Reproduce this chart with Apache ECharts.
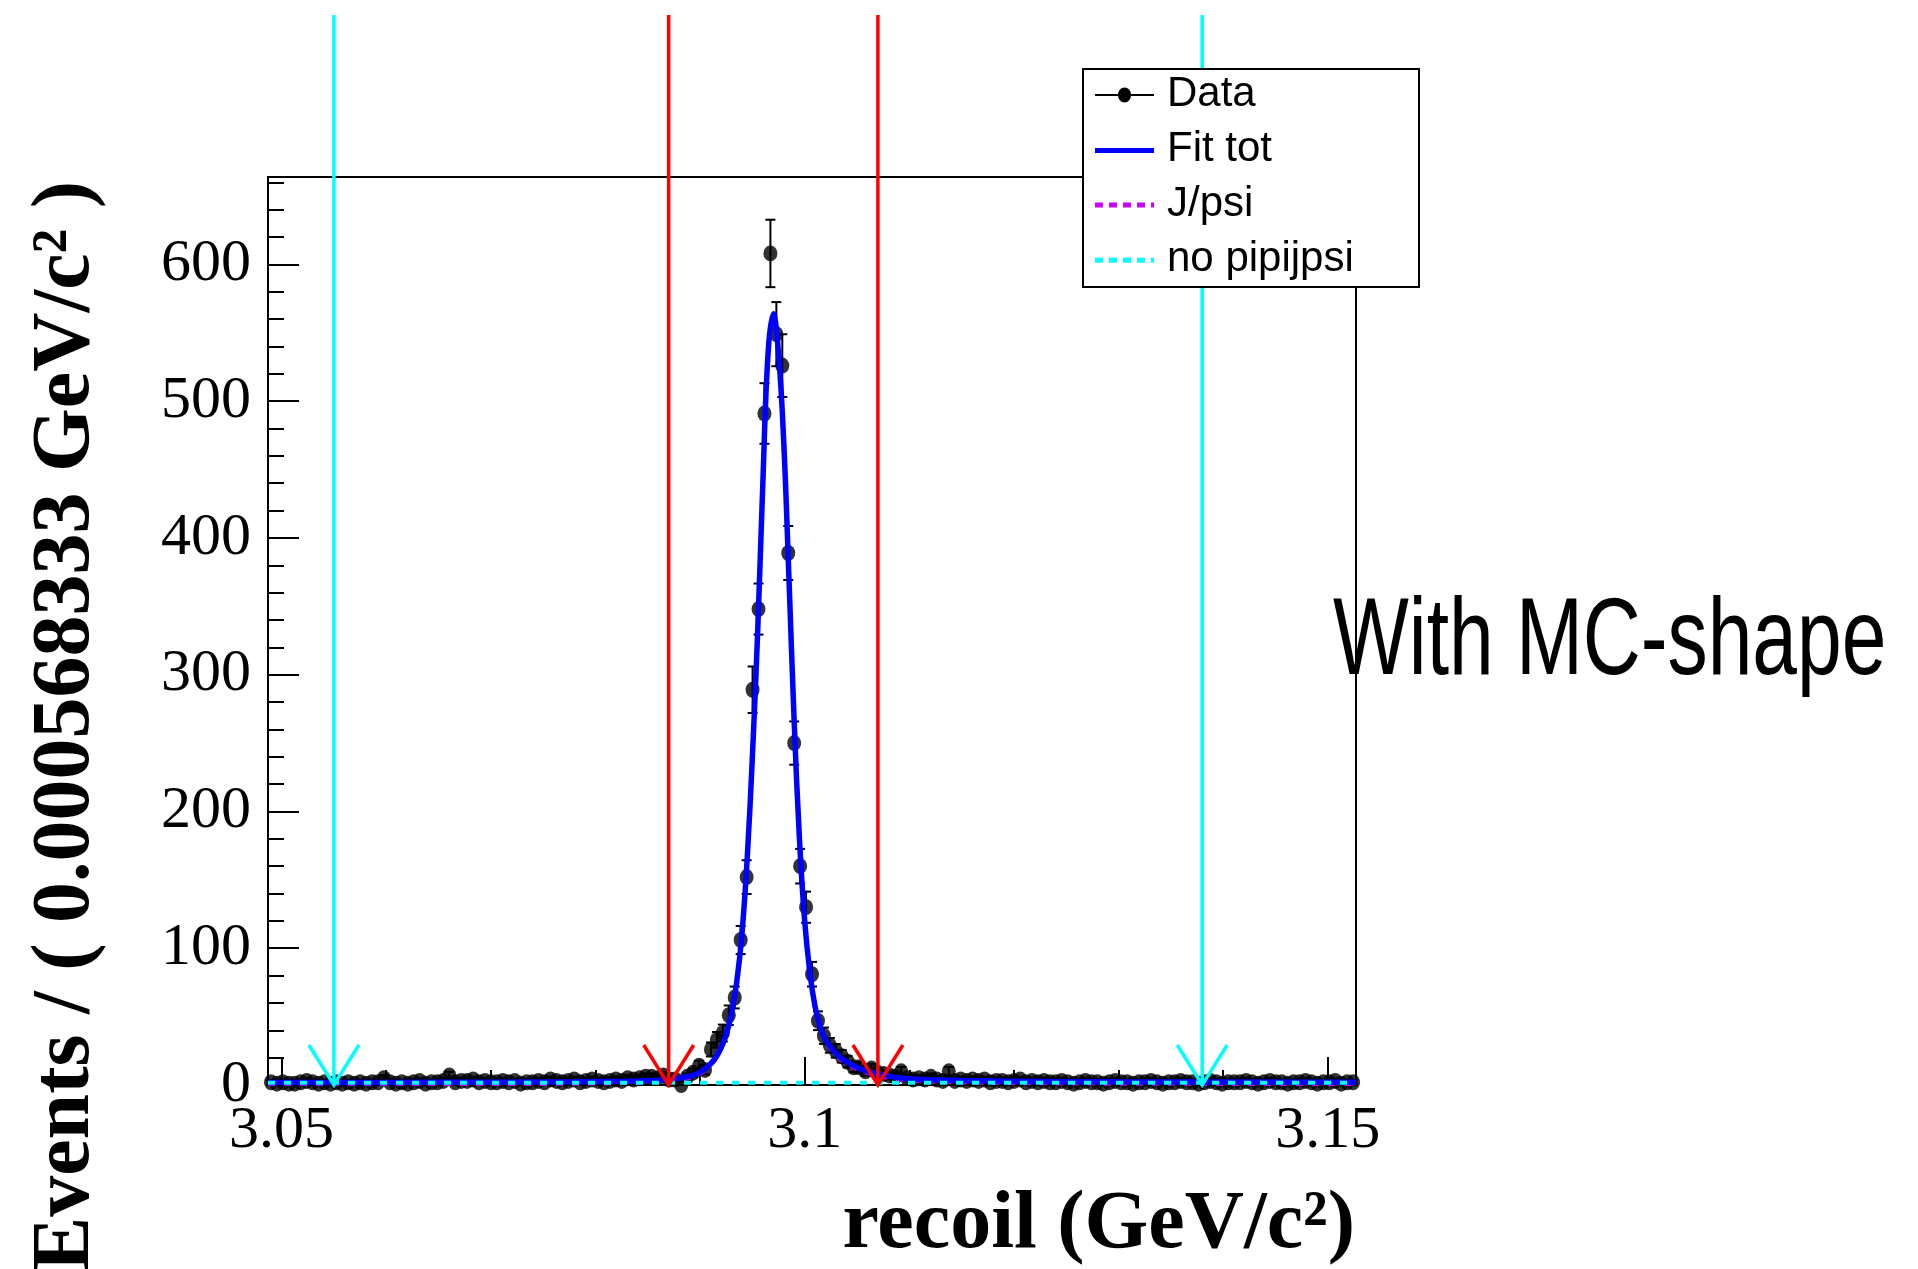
<!DOCTYPE html>
<html><head><meta charset="utf-8">
<script src="https://cdn.jsdelivr.net/npm/echarts@6/dist/echarts.min.js"></script>
<style>html,body{margin:0;padding:0;background:#fff}#c{width:1918px;height:1269px}</style>
</head><body><div id="c"></div>
<script>
// ---- data ----
const binLo = 3.0487;
const binW = 0.000568333;
const counts = [
  2,1,2,1,1,2,3,2,1,2, 1,2,1,2,1,2,1,2,2,5, 2,1,2,1,2,3,1,2,2,3, 7,2,3,3,4,2,3,2,2,3, 2,3,1,2,2,
  3,2,4,3,2,3,4,2,3,4, 3,2,3,4,3,5,4,5,6,6, 5,7,4,4,
  0,6,9,14,11,26,33,38,51,64, 106,152,289,348,491,608,549,526,389,250, 160,130,81,47,36,29,25,21,17,13,
  13,10,12,9,8,7,6,10,5,4, 5,4,6,4,3,10,3,4,3,4, 3,4,2,3,
  3,2,3,4,2,3,2,3,2,2, 3,2,1,2,3,2,2,1,2,3, 2,2,1,2,2,3,2,1,2,2, 3,2,2,1,2,3,2,1,2,2,
  2,3,2,1,2,3,2,2,1,2, 2,3,2,1,2,2,3,1,2,2
];
const fitX = [3.0487,3.060,3.070,3.078,3.083,3.086,3.088,3.089,3.0895,3.090,3.0905,3.091,3.0915,3.092,3.0925,3.093,3.0935,3.094,3.0945,3.095,3.0955,3.096,3.0965,3.097,3.0975,3.098,3.0985,3.099,3.0995,3.100,3.1005,3.101,3.1015,3.102,3.103,3.104,3.105,3.106,3.108,3.110,3.115,3.120,3.130,3.1527];
const fitTot = [1.8,1.9,2.0,2.3,2.8,3.5,5.0,6.5,7.5,9.5,12,15.5,20,27,37,52,75,110,165,240,330,440,535,564,535,470,370,265,180,120,82,57,42,33,23,17,13,10,6.5,4.5,3.2,2.7,2.3,2.0];
const fitJpsi = [0.1,0.2,0.3,0.6,1.1,1.8,3.3,4.8,5.8,7.8,10.3,13.8,18.3,25.3,35.3,50.3,73.3,108,163,238,328,438,533,562,533,468,368,263,178,118,80,55,40,31,21,15,11,8.3,4.8,2.8,1.5,1.0,0.6,0.2];
const bkgX = [3.0487, 3.1527];
const bkgY = [1.7, 1.7];
const xMajor = [3.05, 3.1, 3.15];
const xMinor = [3.06, 3.07, 3.08, 3.09, 3.11, 3.12, 3.13, 3.14];
const yMajor = [0, 100, 200, 300, 400, 500, 600];
const yMinor = [20,40,60,80,120,140,160,180,220,240,260,280,320,340,360,380,420,440,460,480,520,540,560,580,620,640,660];
const cutValues = [3.055, 3.087, 3.107, 3.138];
const cutColors = ['#00ffff', '#ff0000', '#ff0000', '#00ffff'];
const legendNames = ['Data', 'Fit tot', 'J/psi', 'no pipijpsi'];
const xTitle = 'recoil (GeV/c\u00b2)';
const yTitle = 'Events / ( 0.000568333 GeV/c\u00b2 )';
const note = 'With MC-shape';

// ---- build ----
const xMin = 3.0487, xMax = 3.1527, yMax = 663.9;
const dataPts = counts.map((v, i) => [binLo + (i + 0.5) * binW, v]);
const zip = (a, b) => a.map((x, i) => [x, b[i]]);
const serif = '"Liberation Serif", "Times New Roman", serif';
const sans = '"Liberation Sans", Arial, sans-serif';

const chart = echarts.init(document.getElementById('c'), null, {renderer: 'canvas'});
const legendRows = [95, 150.6, 205, 260.3];
const legendText = [94.5, 149.5, 204, 259];
const g = [];
g.push({type:'rect', z:100, shape:{x:1083, y:69, width:336, height:218}, style:{fill:'#fff', stroke:'#000', lineWidth:2}});
g.push({type:'line', z:101, shape:{x1:1095, y1:legendRows[0], x2:1154, y2:legendRows[0]}, style:{stroke:'#000', lineWidth:2}});
g.push({type:'ellipse', z:101, shape:{cx:1124.5, cy:legendRows[0], rx:6.5, ry:7.5}, style:{fill:'#000'}});
g.push({type:'line', z:101, shape:{x1:1095, y1:legendRows[1], x2:1154, y2:legendRows[1]}, style:{stroke:'#0000ff', lineWidth:5}});
g.push({type:'line', z:101, shape:{x1:1095, y1:legendRows[2], x2:1154, y2:legendRows[2]}, style:{stroke:'#cc00ff', lineWidth:5, lineDash:[8,6]}});
g.push({type:'line', z:101, shape:{x1:1095, y1:legendRows[3], x2:1154, y2:legendRows[3]}, style:{stroke:'#00ffff', lineWidth:5, lineDash:[8,6]}});
legendNames.forEach((n, i) => g.push({type:'text', z:101, x:1167, y:legendText[i], style:{text:n, fontSize:42, fontFamily:sans, fill:'#000', align:'left', verticalAlign:'middle'}}));
g.push({type:'text', z:50, x:1355, y:1226, style:{text:xTitle, fontSize:82, fontWeight:'bold', fontFamily:serif, fill:'#000', align:'right', verticalAlign:'middle'}});
g.push({type:'text', z:50, x:67, y:181, rotation:Math.PI/2, style:{text:yTitle, fontSize:82, fontWeight:'bold', fontFamily:serif, fill:'#000', align:'right', verticalAlign:'middle'}});
g.push({type:'text', z:50, x:1333, y:644, scaleX:0.73, style:{text:note, fontSize:110, fontFamily:sans, fill:'#000', align:'left', verticalAlign:'middle'}});

const option = {
  animation: false,
  backgroundColor: '#fff',
  grid: {left:268, top:177, width:1088, height:908, show:true, borderColor:'#000', borderWidth:2, backgroundColor:'transparent'},
  xAxis: [
    {type:'value', min:xMin, max:xMax, position:'bottom',
     axisLine:{show:true, lineStyle:{color:'#000', width:2}},
     axisTick:{show:true, inside:true, length:28, customValues:xMajor, lineStyle:{color:'#000', width:2}},
     axisLabel:{show:true, customValues:xMajor, margin:16, fontSize:60, fontFamily:serif, color:'#000', formatter:v => String(+v.toFixed(2))},
     splitLine:{show:false}},
    {type:'value', min:xMin, max:xMax, position:'bottom', offset:0,
     axisLine:{show:false},
     axisTick:{show:true, inside:true, length:15, customValues:xMinor, lineStyle:{color:'#000', width:2}},
     axisLabel:{show:false}, splitLine:{show:false}}
  ],
  yAxis: [
    {type:'value', min:0, max:yMax, position:'left',
     axisLine:{show:true, lineStyle:{color:'#000', width:2}},
     axisTick:{show:true, inside:true, length:31, customValues:yMajor, lineStyle:{color:'#000', width:2}},
     axisLabel:{show:true, customValues:yMajor, margin:17, fontSize:60, fontFamily:serif, color:'#000'},
     splitLine:{show:false}},
    {type:'value', min:0, max:yMax, position:'left', offset:0,
     axisLine:{show:false},
     axisTick:{show:true, inside:true, length:16, customValues:yMinor, lineStyle:{color:'#000', width:2}},
     axisLabel:{show:false}, splitLine:{show:false}}
  ],
  series: [
    {name:'errors', type:'custom', z:2, data:dataPts,
     renderItem:(params, api) => {
       const x = api.value(0), v = api.value(1);
       if (v <= 0) return null;
       const e = Math.sqrt(v);
       const t = api.coord([x, v + e]), b = api.coord([x, Math.max(v - e, 0)]);
       const ls = {stroke:'#000', lineWidth:2};
       return {type:'group', children:[
         {type:'line', shape:{x1:t[0], y1:t[1], x2:b[0], y2:b[1]}, style:ls},
         {type:'line', shape:{x1:t[0]-5, y1:t[1], x2:t[0]+5, y2:t[1]}, style:ls},
         {type:'line', shape:{x1:b[0]-5, y1:b[1], x2:b[0]+5, y2:b[1]}, style:ls}
       ]};
     }},
    {name:'Data', type:'scatter', z:3, data:dataPts, symbol:'circle', symbolSize:[14, 16], itemStyle:{color:'#000'}},
    {name:'J/psi', type:'line', z:4, data:zip(fitX, fitJpsi), smooth:0.4, symbol:'none', lineStyle:{color:'#cc00ff', width:3, type:[7,9]}},
    {name:'Fit tot', type:'line', z:5, data:zip(fitX, fitTot), smooth:0.4, symbol:'none', lineStyle:{color:'#0000ff', width:5.5}},
    {name:'no pipijpsi', type:'line', z:6, data:zip(bkgX, bkgY), symbol:'none', lineStyle:{color:'#00ffff', width:4, type:[7,9]}},
    {name:'cuts', type:'custom', z:7, clip:false, data:cutValues.map(v => [v, 0]),
     renderItem:(params, api) => {
       const p = api.coord([api.value(0), 0]);
       const c = cutColors[params.dataIndex];
       return {type:'group', children:[
         {type:'line', shape:{x1:p[0], y1:15, x2:p[0], y2:p[1]}, style:{stroke:c, lineWidth:3.5}},
         {type:'polyline', shape:{points:[[p[0]-25, p[1]-40], [p[0], p[1]], [p[0]+25, p[1]-40]]}, style:{stroke:c, lineWidth:3.5, fill:null}}
       ]};
     }}
  ],
  graphic: g
};
chart.setOption(option);
</script></body></html>
